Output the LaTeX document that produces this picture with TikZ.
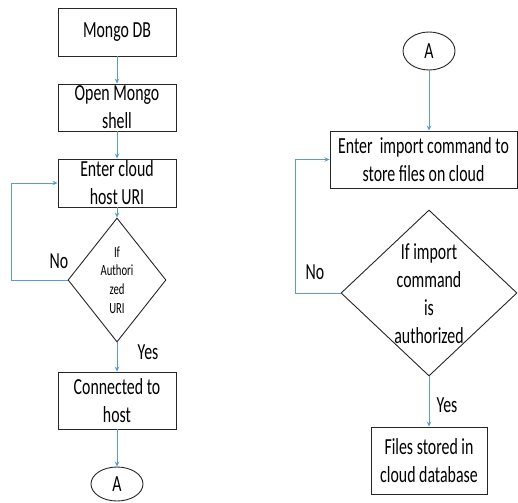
\documentclass[tikz,border=0pt]{standalone}
\usepackage{fontspec}
\newfontfamily\cf[FakeStretch=0.69]{Carlito}
\usetikzlibrary{shapes.geometric,arrows.meta}
\definecolor{arrblue}{HTML}{5B9BD5}
\definecolor{edge}{HTML}{262626}
\begin{document}
\begin{tikzpicture}[x=1pt,y=-1pt,
  every node/.style={font=\cf\fontsize{23}{28}\selectfont, inner sep=0pt},
  box/.style={draw=edge, line width=0.9pt, rectangle, align=center},
  dia/.style={draw=edge, line width=0.9pt, diamond},
  conn/.style={draw=edge, line width=0.9pt, ellipse},
  arr/.style={draw=arrblue, line width=0.8pt, -{Stealth[length=5pt,width=4.5pt]}},
  lbl/.style={}]
\useasboundingbox (0,0) rectangle (518,502);
% left column
\node[box, minimum width=118pt, minimum height=48pt] (m1) at (117,32) {Mongo DB};
\node[box, minimum width=118pt, minimum height=47pt] (m2) at (117,107.5) {Open Mongo\\shell};
\node[box, minimum width=118pt, minimum height=48pt] (m3) at (117,183) {Enter cloud\\host URI};
\node[dia, minimum width=98pt, minimum height=124pt] (d1) at (117,280) {};
\node[align=center, font=\cf\fontsize{15.5}{18.7}\selectfont] (d1t) at (117,280) {If\\Authori\\zed\\URI};
\node[box, minimum width=118pt, minimum height=57pt] (m4) at (117,400.5) {Connected to\\host};
\node[conn, minimum width=52pt, minimum height=34pt] (a1) at (117,484) {A};
\node (no1) at (59,261) {No};
\node (yes1) at (148,352) {Yes};
\draw[arr] (m1) -- (m2);
\draw[arr] (m2) -- (m3);
\draw[arr] (m3) -- (d1.north);
\draw[arr] (d1.west) -- ++(-56,0) |- (m3.west);
\draw[arr] (d1.south) -- (m4);
\draw[arr] (m4) -- (a1);
% right column
\node[conn, minimum width=52pt, minimum height=38pt] (a2) at (429,51) {A};
\node[box, minimum width=187pt, minimum height=57pt] (r1) at (423.5,159.5) {Enter\ \ import command to\\store files on cloud};
\node[dia, minimum width=176pt, minimum height=166pt] (d2) at (429,293) {};
\node[align=center] (d2t) at (429,294) {If import\\command\\is\\authorized};
\node[box, minimum width=116pt, minimum height=67pt] (r2) at (429,460.5) {Files stored in\\cloud database};
\node (no2) at (315,272) {No};
\node (yes2) at (447,405) {Yes};
\draw[arr] (a2.south) -- (a2.south |- r1.north);
\draw[arr] (d2.west) -- ++(-45,0) |- (r1.west);
\draw[arr] (d2.south) -- (r2);
\end{tikzpicture}
\end{document}
